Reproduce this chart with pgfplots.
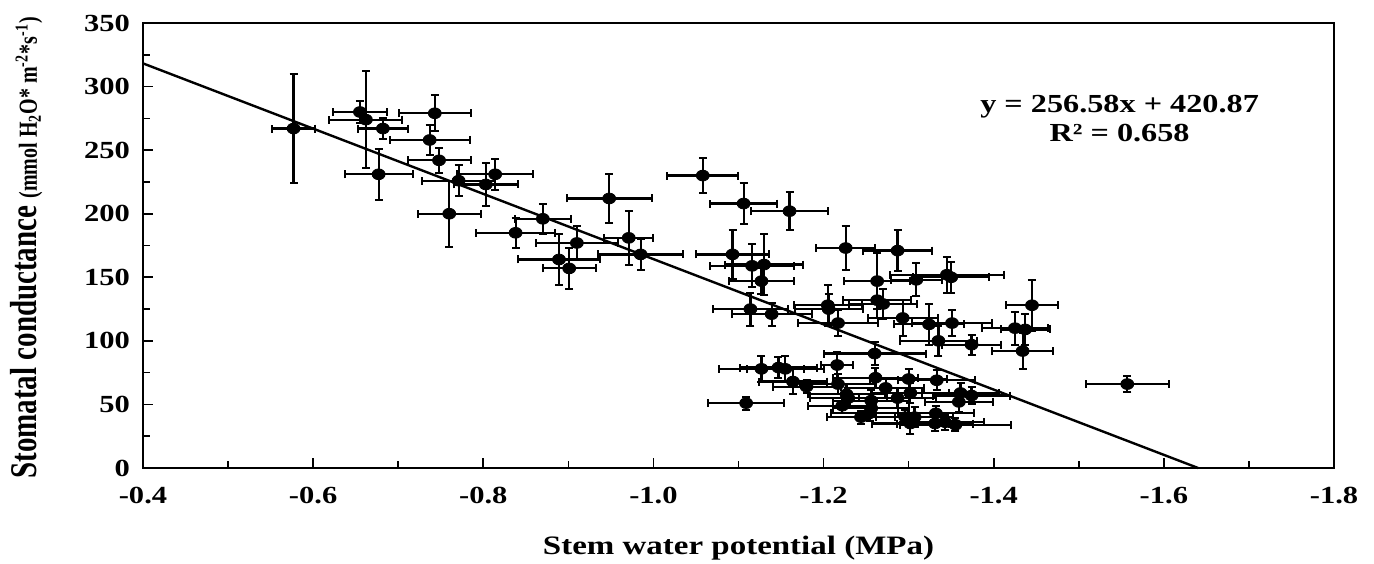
\documentclass[border=0pt]{standalone}
\usepackage{pgfplots}
\usepackage{pgfplotstable}
\pgfplotsset{compat=1.18}
\usepackage{fontspec}
\setmainfont{Liberation Serif}[FakeStretch=1.24]
\newfontfamily\ylabfont{Liberation Serif}

\pgfplotstableread{
x y ex ey
-0.577 267 0.025 43
-0.655 280 0.032 9
-0.662 274 0.043 38
-0.682 267 0.029 8
-0.743 279 0.042 14
-0.737 258 0.047 12
-0.748 242 0.037 10
-0.677 231 0.040 20
-0.760 200 0.037 26
-0.771 226 0.043 12
-0.803 223 0.038 17
-0.814 231 0.045 12
-0.870 196 0.033 12
-0.838 185 0.046 12
-0.948 212 0.050 19
-0.910 177 0.048 13
-0.889 164 0.048 20
-0.901 157 0.031 16
-0.971 181 0.029 21
-0.985 168 0.050 12
-1.058 230 0.042 14
-1.106 208 0.039 16
-1.160 202 0.045 15
-1.093 168 0.043 19
-1.116 159 0.049 17
-1.130 160 0.046 24
-1.127 147 0.038 10
-1.114 125 0.044 13
-1.139 121 0.047 9
-1.226 173 0.035 17
-1.287 171 0.041 16
-1.263 147 0.039 22
-1.309 148 0.030 13
-1.345 152 0.067 14
-1.350 150 0.045 12
-1.205 128 0.040 16
-1.206 125 0.040 12
-1.263 132 0.040 14
-1.270 129 0.040 12
-1.217 114 0.047 10
-1.293 118 0.041 14
-1.324 113 0.041 16
-1.351 114 0.047 10
-1.335 100 0.045 12
-1.374 97 0.035 8
-1.445 128 0.030 20
-1.425 110 0.039 13
-1.437 109 0.029 12
-1.434 92 0.036 14
-1.260 90 0.060 9
-1.557 66 0.049 6
-1.127 78 0.050 10
-1.147 79 0.045 8
-1.155 78 0.045 10
-1.216 81 0.019 10
-1.164 68 0.040 10
-1.180 64 0.040 5
-1.109 51 0.045 5
-1.217 66 0.045 8
-1.227 58 0.045 8
-1.229 55 0.045 8
-1.222 49 0.040 6
-1.261 71 0.050 8
-1.273 63 0.045 8
-1.256 53 0.045 8
-1.256 47 0.045 6
-1.254 43 0.045 6
-1.244 40 0.040 5
-1.287 55 0.045 8
-1.300 70 0.045 8
-1.333 69 0.045 8
-1.302 59 0.045 8
-1.361 59 0.045 8
-1.374 57 0.045 7
-1.359 52 0.040 8
-1.332 43 0.045 6
-1.296 40 0.045 6
-1.307 40 0.045 8
-1.302 35 0.045 8
-1.331 35 0.045 6
-1.343 36 0.045 6
-1.355 34 0.065 5
}\scatterdata

\begin{document}
\begin{tikzpicture}
\path[use as bounding box] (-71.5pt,-47.5pt) rectangle (615.5pt,234pt);
\begin{axis}[
  at={(0,0)}, anchor=south west,
  scale only axis, width=595.5pt, height=222.5pt,
  x dir=reverse, xmin=-1.8, xmax=-0.4, ymin=0, ymax=350,
  xtick={-0.4,-0.6,-0.8,-1.0,-1.2,-1.4,-1.6,-1.8},
  xticklabels={-0.4,-0.6,-0.8,-1.0,-1.2,-1.4,-1.6,-1.8},
  minor xtick={-0.5,-0.7,-0.9,-1.1,-1.3,-1.5,-1.7},
  ytick={0,50,...,350},
  minor ytick={25,75,...,325},
  xtick pos=bottom, ytick pos=left, tick align=inside,
  major tick length=5pt, minor tick length=3.5pt,
  axis line style={line width=1pt},
  every tick/.style={line width=0.8pt, black},
  /pgf/number format/assume math mode=true,
  ticklabel style={font=\fontsize{12.3}{13}\selectfont\bfseries},
  xticklabel style={yshift=-6pt},
  yticklabel style={xshift=-3pt},
  clip=false,
]
\addplot[only marks, mark=*, mark size=2.7pt, black,
  mark options={xscale=1.2},
  error bars/.cd, x dir=both, x explicit, y dir=both, y explicit,
  error bar style={line width=1.1pt, black},
  error mark=-,
  error mark options={rotate=90, mark size=2pt, line width=1pt, black}]
  table[x=x, y=y, x error=ex, y error=ey]{\scatterdata};
\addplot[black, line width=1.2pt] coordinates {(-0.4,318.24) (-1.6403,0)};
\node[align=center, font=\fontsize{13}{14.5}\selectfont\bfseries] at (axis cs:-1.548,275) {y = 256.58x + 420.87\\R² = 0.658};
\end{axis}
\node[font=\fontsize{13.3}{14}\selectfont\bfseries] at (297.75pt,-40pt) {Stem water potential (MPa)};
\node[rotate=90, anchor=base] at (-53pt,110pt) {\scalebox{1}[1.3]{\ylabfont\bfseries\fontsize{14.5}{16}\selectfont Stomatal conductance \fontsize{10}{12}\selectfont(mmol H\textsubscript{2}O* m\textsuperscript{-2}*s\textsuperscript{-1})}};
\end{tikzpicture}
\end{document}
